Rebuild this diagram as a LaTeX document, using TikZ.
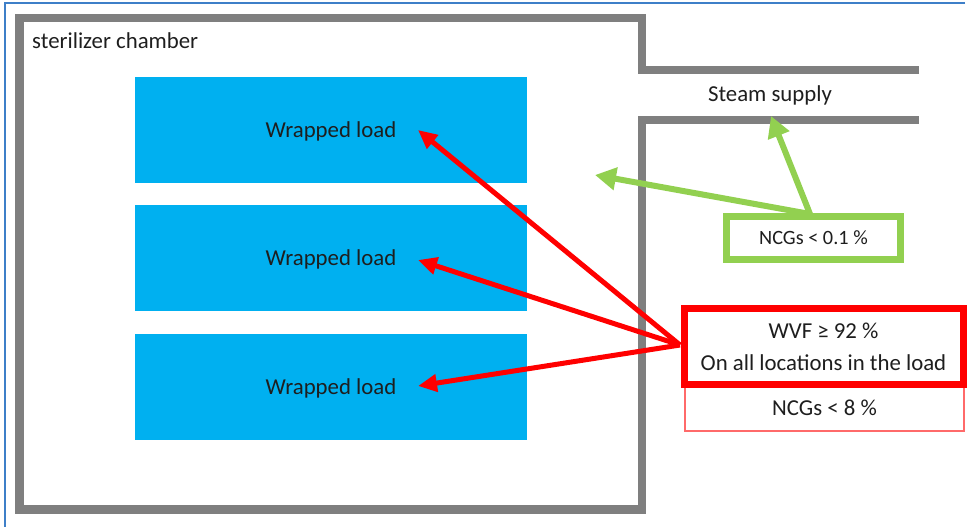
\documentclass[tikz,border=0pt]{standalone}
\usepackage{fontspec}
\setmainfont{Carlito}
\usetikzlibrary{arrows.meta}
\definecolor{loadblue}{HTML}{00B0F0}
\definecolor{wallgray}{HTML}{7F7F7F}
\definecolor{ncggreen}{HTML}{92D050}
\definecolor{framblue}{HTML}{3E7FC8}
\definecolor{txt}{HTML}{1E1E1E}
\definecolor{lightred}{HTML}{FF6A6A}
\tikzset{
  loadbox/.style={fill=loadblue, draw=none, minimum width=392pt, minimum height=106pt, inner sep=0pt, text depth=0pt, text=txt, font=\fontsize{22.8}{27}\selectfont},
  bigtxt/.style={text=txt, font=\fontsize{22.8}{27}\selectfont, inner sep=0pt},
  redarrow/.style={red, line width=5pt, -{Triangle[length=19pt,width=17pt]}},
  greenarrow/.style={ncggreen, line width=6pt, -{Triangle[length=21pt,width=22pt]}},
  wall/.style={wallgray, line width=8.5pt, line join=miter},
}
\begin{document}
\begin{tikzpicture}[x=1pt,y=-1pt]
\useasboundingbox (0,0) rectangle (969,527);
% outer frame
\draw[framblue, line width=1.5pt] (965,3) -- (5,3) -- (5,527);
% chamber walls
\draw[wall] (919,70) -- (642,70) -- (642,18) -- (19.5,18) -- (19.5,509.5) -- (642,509.5) -- (642,120) -- (919,120);
\node[bigtxt, anchor=west] (chamber) at (32,40.5) {sterilizer chamber};
\node[bigtxt] (steam) at (770,95.5) {Steam supply};
% loads
\node[loadbox] (load1) at (331,130) {Wrapped load};
\node[loadbox] (load2) at (331,257.5) {Wrapped load};
\node[loadbox] (load3) at (331,387) {Wrapped load};
% red box
\node[draw=lightred, line width=1.2pt, minimum width=279pt, minimum height=46pt, inner sep=0pt, bigtxt] (ncg8) at (824.5,408) {NCGs < 8 \%};
\node[draw=red, fill=white, line width=7pt, minimum width=279pt, minimum height=76pt, inner sep=0pt, align=center, text=txt, font=\fontsize{22.8}{32}\selectfont] (wvf) at (823.5,346.5) {WVF ≥ 92 \%\\On all locations in the load};
% green box
\node[draw=ncggreen, fill=white, line width=7pt, minimum width=174pt, minimum height=43pt, inner sep=0pt, text=txt, font=\fontsize{20.3}{24}\selectfont] (ncg01) at (813.5,238) {NCGs < 0.1 \%};
% arrow ends
\coordinate (r1) at (418,130);
\coordinate (r2) at (418,260);
\coordinate (r3) at (418,386);
\coordinate (g1) at (595,175);
\coordinate (g2) at (771,116);
\coordinate (rs) at (680,345);
\coordinate (gs) at (810,214);
\draw[redarrow] (rs) -- (r1);
\draw[redarrow] (rs) -- (r2);
\draw[redarrow] (rs) -- (r3);
\draw[greenarrow] (gs) -- (g1);
\draw[greenarrow] (gs) -- (g2);
\end{tikzpicture}
\end{document}
